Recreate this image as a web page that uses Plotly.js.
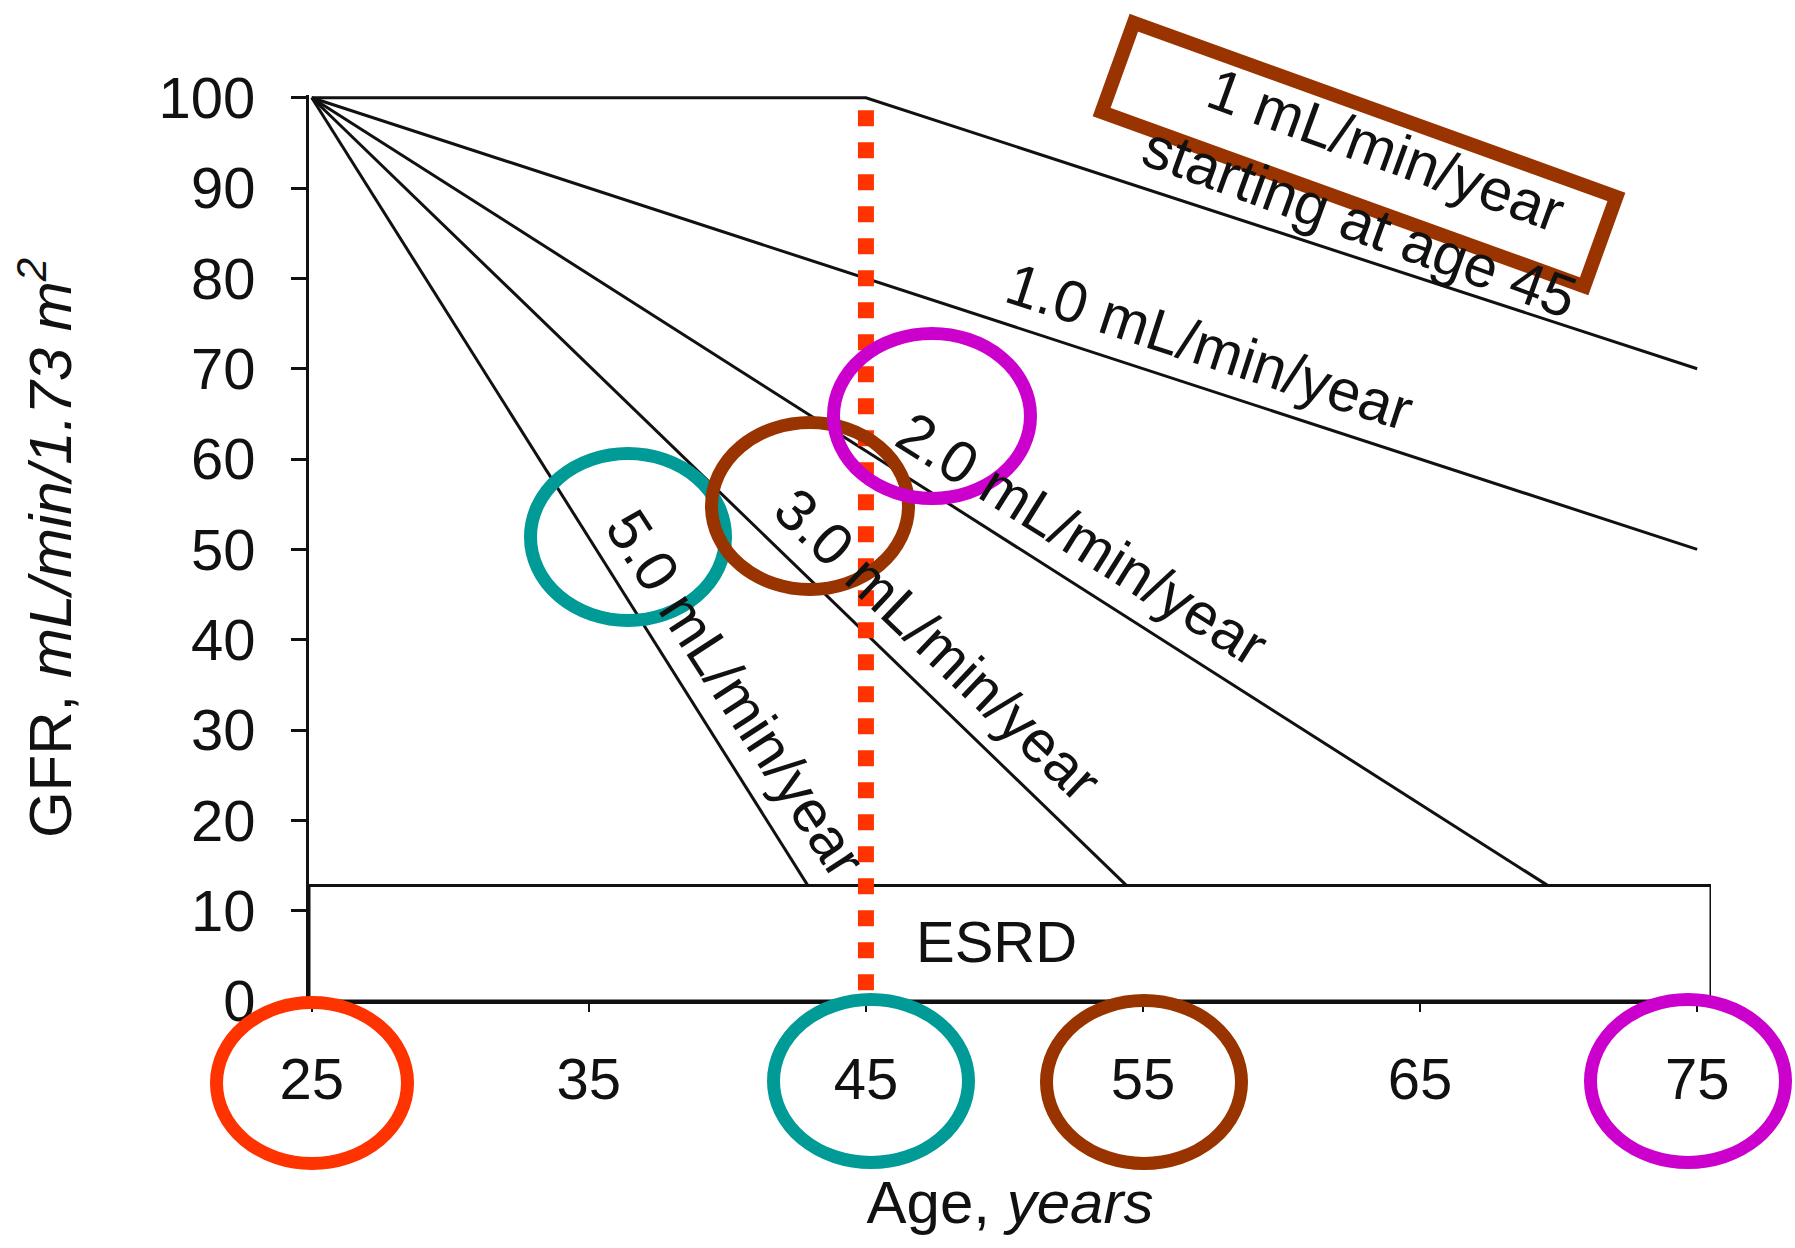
<!DOCTYPE html>
<html><head><meta charset="utf-8">
<script src="https://cdn.plot.ly/plotly-3.0.1.min.js"></script>
<style>html,body{margin:0;padding:0;background:#fff}#chart{width:1795px;height:1248px}</style>
</head><body><div id="chart"></div>
<script>
// ---- data ----
const ageTicks = [25, 35, 45, 55, 65, 75];
const gfrTicks = [0, 10, 20, 30, 40, 50, 60, 70, 80, 90, 100];
const lateStartAge = [25, 45, 75];
const lateStartGfr = [100, 100, 70];
const rate1Age = [25, 75];
const rate1Gfr = [100, 50];
const rate2Age = [25, 69.6];
const rate2Gfr = [100, 12.8];
const rate3Age = [25, 54.4];
const rate3Gfr = [100, 12.8];
const rate5Age = [25, 42.9];
const rate5Gfr = [100, 12.8];
const esrdAge = [24.9, 75.5];
const esrdGfr = [0, 12.8];
const markAge = [45, 45];
const markGfr = [98.6, 0];
const labelTexts = ["1 mL/min/year<br>starting at age 45", "1.0 mL/min/year", "2.0 mL/min/year", "3.0 mL/min/year", "5.0 mL/min/year"];
const esrdText = "ESRD";

// ---- layout geometry ----
const W = 1795, H = 1248;
const M = {l: 309, r: 84, t: 95, b: 247};
const plotW = W - M.l - M.r, plotH = H - M.t - M.b;
const px2x = px => (px - M.l) / plotW;
const py2y = py => (H - M.b - py) / plotH;

const FONT = "Liberation Sans, Arial, Helvetica, sans-serif";
const RED = "#ff3300", TEAL = "#009a97", BROWN = "#993300", MAGENTA = "#cc00cc";
const RING = 13;

function ellipse(cx, cy, rxOuter, ryOuter, color) {
  const rx = rxOuter - RING / 2, ry = ryOuter - RING / 2;
  return {type: "circle", xref: "paper", yref: "paper", layer: "above",
    x0: px2x(cx - rx), x1: px2x(cx + rx), y0: py2y(cy + ry), y1: py2y(cy - ry),
    line: {color: color, width: RING}, fillcolor: "rgba(0,0,0,0)"};
}
function rotRect(cx, cy, w, h, deg, color, lw) {
  const a = deg * Math.PI / 180, c = Math.cos(a), s = Math.sin(a);
  const pts = [[-w/2, -h/2], [w/2, -h/2], [w/2, h/2], [-w/2, h/2]].map(p =>
    [cx + p[0] * c - p[1] * s, cy + p[0] * s + p[1] * c]);
  const path = pts.map((p, i) => (i ? "L" : "M") + px2x(p[0]).toFixed(5) + "," + py2y(p[1]).toFixed(5)).join(" ") + " Z";
  return {type: "path", xref: "paper", yref: "paper", layer: "above", path: path,
    line: {color: color, width: lw}, fillcolor: "rgba(0,0,0,0)"};
}

const lineStyle = {color: "#111", width: 3};
const traces = [
  {x: lateStartAge, y: lateStartGfr, mode: "lines", line: lineStyle, hoverinfo: "skip"},
  {x: rate1Age, y: rate1Gfr, mode: "lines", line: lineStyle, hoverinfo: "skip"},
  {x: rate2Age, y: rate2Gfr, mode: "lines", line: lineStyle, hoverinfo: "skip"},
  {x: rate3Age, y: rate3Gfr, mode: "lines", line: lineStyle, hoverinfo: "skip"},
  {x: rate5Age, y: rate5Gfr, mode: "lines", line: lineStyle, hoverinfo: "skip"},
  {x: markAge, y: markGfr, mode: "lines", line: {color: RED, width: 16, dash: "16px,16px"}, hoverinfo: "skip"}
];

const labelSpec = [
  {x: 63.3, y: 90.2, angle: 20},
  {x: 57.4, y: 72.4, angle: 18},
  {x: 52.8, y: 51.2, angle: 32},
  {x: 47.6, y: 39.4, angle: 43.5},
  {x: 40.3, y: 34.0, angle: 57}
];
const annotations = labelTexts.map((t, i) => ({
  x: labelSpec[i].x, y: labelSpec[i].y, xref: "x", yref: "y", text: t, showarrow: false,
  textangle: labelSpec[i].angle, xanchor: "center", yanchor: "middle", align: "center",
  font: {family: FONT, size: 59, color: "#111"}
}));
annotations.push({x: 49.7, y: 6.6, xref: "x", yref: "y", text: esrdText, showarrow: false,
  font: {family: FONT, size: 58, color: "#111"}});

const shapes = [
  {type: "rect", xref: "x", yref: "y", x0: esrdAge[0], x1: esrdAge[1], y0: esrdGfr[0], y1: esrdGfr[1],
   line: {color: "#111", width: 3}, fillcolor: "rgba(0,0,0,0)", layer: "below"},
  ellipse(312, 1083, 102, 87, RED),
  ellipse(871, 1081, 104, 88, TEAL),
  ellipse(1144, 1082, 104, 88, BROWN),
  ellipse(1688, 1081, 104, 88, MAGENTA),
  ellipse(628, 537, 104, 90, TEAL),
  ellipse(810, 506, 105, 90, BROWN),
  ellipse(932, 416, 105, 89, MAGENTA),
  rotRect(1359, 154.5, 513, 95, 19.85, BROWN, 14)
];

const layout = {
  width: W, height: H, margin: M, showlegend: false,
  paper_bgcolor: "#fff", plot_bgcolor: "rgba(0,0,0,0)",
  font: {family: FONT, color: "#111"},
  xaxis: {range: [24.9, 75.5], tickvals: ageTicks, ticktext: ageTicks.map(String),
    ticks: "outside", ticklen: 8, tickwidth: 2, tickcolor: "#111",
    showline: true, linewidth: 3, linecolor: "#111", showgrid: false, zeroline: false,
    tickfont: {family: FONT, size: 58, color: "#111"}, ticklabelstandoff: 17,
    title: {text: "Age, <i>years</i>", font: {family: FONT, size: 60, color: "#111"}, standoff: 72}},
  yaxis: {range: [0, 100.3], tickvals: gfrTicks, ticktext: gfrTicks.map(String),
    ticks: "outside", ticklen: 15, tickwidth: 3, tickcolor: "#111",
    showline: true, linewidth: 3, linecolor: "#111", showgrid: false, zeroline: false,
    tickfont: {family: FONT, size: 58, color: "#111"}, ticklabelstandoff: 24,
    title: {text: "GFR, <i>mL/min/1.73 m<sup>2</sup></i>", font: {family: FONT, size: 60, color: "#111"}, standoff: 68}},
  shapes: shapes,
  annotations: annotations
};

Plotly.newPlot("chart", traces, layout, {staticPlot: true, displayModeBar: false});
</script></body></html>
